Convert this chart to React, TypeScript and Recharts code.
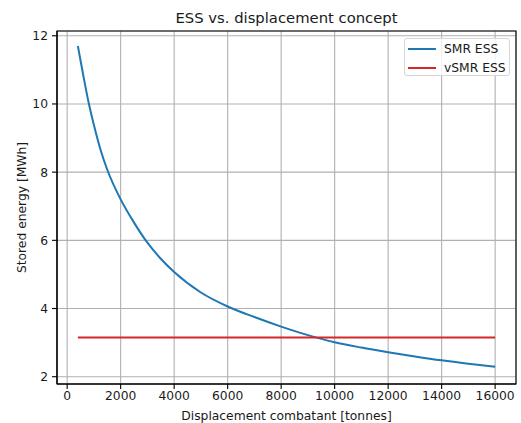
import { LineChart, Line, XAxis, YAxis, CartesianGrid, ReferenceArea } from "recharts";

const displacement = [400, 600, 800, 1000, 1250, 1500, 2000, 2500, 3000, 3500, 4000, 5000, 6000, 7000, 8000, 9000, 10000, 11000, 12000, 13000, 14000, 15000, 16000];
const smrEss = [11.7, 10.85, 10.05, 9.38, 8.65, 8.07, 7.2, 6.52, 5.93, 5.46, 5.07, 4.47, 4.06, 3.75, 3.47, 3.22, 3.01, 2.855, 2.72, 2.595, 2.48, 2.38, 2.29];
const vsmrDisplacement = [400, 16000];
const vsmrEss = [3.15, 3.15];

const xTicks = [0, 2000, 4000, 6000, 8000, 10000, 12000, 14000, 16000];
const yTicks = [2, 4, 6, 8, 10, 12];
const xDomain: [number, number] = [-380, 16780];
const yDomain: [number, number] = [1.786, 12.14];

const smrData = displacement.map((x, i) => ({ x, smr: smrEss[i] }));
const vsmrData = vsmrDisplacement.map((x, i) => ({ x, vsmr: vsmrEss[i] }));

const FONT = "'DejaVu Sans', sans-serif";
const TEXT = "#1a1a1a";
const BLUE = "#1f77b4";
const RED = "#d62728";

function YLabel(props: any) {
  const vb = props.viewBox || { x: 0, y: 0, width: 57, height: 0 };
  const cx = vb.x + 22;
  const cy = vb.y + vb.height / 2;
  return (
    <text
      x={cx}
      y={cy}
      transform={`rotate(-90, ${cx}, ${cy})`}
      textAnchor="middle"
      dominantBaseline="central"
      fontSize={12.3}
      fontFamily={FONT}
      fill={TEXT}
    >
      Stored energy [MWh]
    </text>
  );
}

export default function App() {
  const tickStyle = { fill: TEXT, fontSize: 12.3, fontFamily: FONT };
  return (
    <div style={{ position: "absolute", left: 0, top: 0, width: 521, height: 423, background: "#fff" }}>
      <div
        style={{
          position: "absolute",
          left: 57,
          width: 459,
          top: 9,
          textAlign: "center",
          fontFamily: FONT,
          fontSize: 14.8,
          color: TEXT,
          lineHeight: "18px",
        }}
      >
        ESS vs. displacement concept
      </div>
      <LineChart width={521} height={423} margin={{ top: 31, right: 5, bottom: 0, left: 0 }}>
        <CartesianGrid stroke="#b0b0b0" strokeWidth={1.1} />
        <XAxis
          dataKey="x"
          type="number"
          domain={xDomain}
          ticks={xTicks}
          allowDataOverflow
          height={39}
          tickSize={5}
          tickMargin={2}
          tick={tickStyle}
          stroke="#000"
          axisLine={{ stroke: "#000", strokeWidth: 1.1 }}
          tickLine={{ stroke: "#000", strokeWidth: 1.1 }}
          label={{
            value: "Displacement combatant [tonnes]",
            position: "insideBottom",
            offset: 3,
            style: { fill: TEXT, fontSize: 12.3, fontFamily: FONT },
          }}
        />
        <YAxis
          type="number"
          domain={yDomain}
          ticks={yTicks}
          allowDataOverflow
          width={57}
          tickSize={5}
          tickMargin={4}
          tick={tickStyle}
          axisLine={{ stroke: "#000", strokeWidth: 1.1 }}
          tickLine={{ stroke: "#000", strokeWidth: 1.1 }}
          label={<YLabel />}
        />
        <Line
          data={smrData}
          dataKey="smr"
          type="monotone"
          stroke={BLUE}
          strokeWidth={2}
          dot={false}
          activeDot={false}
          isAnimationActive={false}
        />
        <Line
          data={vsmrData}
          dataKey="vsmr"
          type="linear"
          stroke={RED}
          strokeWidth={2}
          dot={false}
          activeDot={false}
          isAnimationActive={false}
        />
        <ReferenceArea
          x1={xDomain[0]}
          x2={xDomain[1]}
          y1={yDomain[0]}
          y2={yDomain[1]}
          fill="none"
          stroke="#000"
          strokeWidth={1.1}
          ifOverflow="visible"
        />
      </LineChart>
      <div
        style={{
          position: "absolute",
          left: 404,
          top: 38,
          width: 106,
          height: 38,
          boxSizing: "border-box",
          border: "1px solid #d6d6d6",
          borderRadius: 3,
          background: "rgba(255,255,255,0.8)",
          fontFamily: FONT,
          fontSize: 12.3,
          color: TEXT,
        }}
      >
        {[
          { name: "SMR ESS", color: BLUE },
          { name: "vSMR ESS", color: RED },
        ].map((item, i) => (
          <div
            key={item.name}
            style={{ position: "absolute", left: 3, top: 1 + i * 18.5, height: 18, display: "flex", alignItems: "center" }}
          >
            <div style={{ width: 28, height: 2, background: item.color }} />
            <span style={{ marginLeft: 8, whiteSpace: "nowrap" }}>{item.name}</span>
          </div>
        ))}
      </div>
    </div>
  );
}
